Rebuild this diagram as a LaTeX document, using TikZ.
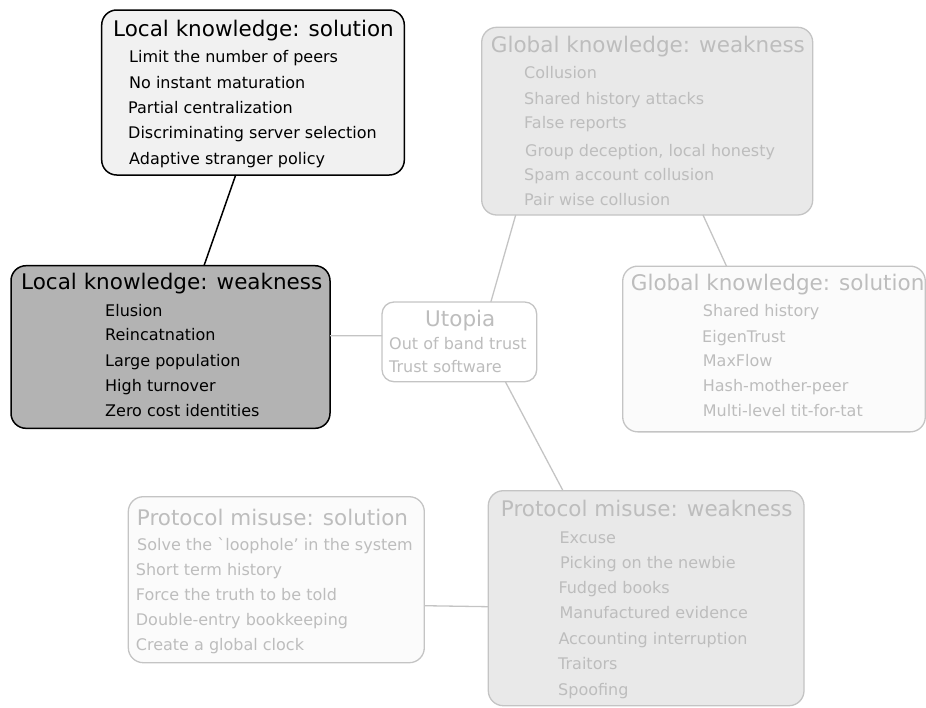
\documentclass[tikz,border=0pt]{standalone}
\usepackage{fontspec}
\setmainfont{DejaVu Sans}
% same face without the TeX quote mapping, for a literal grave accent
\newfontfamily\rawfont{DejaVu Sans}[Ligatures=TeXOff]
\definecolor{inkgray}{HTML}{BDBDBD}
\definecolor{edgegray}{HTML}{C4C4C4}
\definecolor{darkfill}{HTML}{B3B3B3}
\definecolor{lightfill}{HTML}{F1F1F1}
\definecolor{midfill}{HTML}{E9E9E9}
\definecolor{palefill}{HTML}{FBFBFB}
\tikzset{
  box/.style={rectangle, rounded corners=15pt, inner sep=0pt, outer sep=0pt},
  activebox/.style={box, draw=black, line width=1.5pt},
  fadedbox/.style={box, draw=edgegray, line width=1.3pt},
  heading/.style={anchor=base west, inner sep=0pt, font=\fontsize{21.5}{24}\selectfont},
  entry/.style={anchor=base west, inner sep=0pt, font=\fontsize{16}{18}\selectfont},
  faded/.style={text=inkgray},
  link/.style={line width=1.5pt, black},
  fadedlink/.style={line width=1.3pt, edgegray}
}
\begin{document}
\begin{tikzpicture}[x=1pt, y=-1pt]
\useasboundingbox (0,0) rectangle (926,707);

% boxes
\node[activebox, fill=lightfill, minimum width=302.6pt, minimum height=165pt] (ls) at (253,92.5) {};
\node[activebox, fill=darkfill, minimum width=319pt, minimum height=162.6pt] (lw) at (170.5,347) {};
\node[fadedbox, fill=white, rounded corners=12pt, minimum width=154.7pt, minimum height=79.7pt] (ut) at (459.35,341.85) {};
\node[fadedbox, fill=midfill, minimum width=331pt, minimum height=187.7pt] (gw) at (647.2,121.15) {};
\node[fadedbox, fill=palefill, minimum width=302.6pt, minimum height=165.7pt] (gs) at (774,349) {};
\node[fadedbox, fill=palefill, minimum width=296pt, minimum height=166pt] (ps) at (276.3,579.7) {};
\node[fadedbox, fill=midfill, minimum width=315.7pt, minimum height=215pt] (pw) at (646.15,598.2) {};

% connectors
\draw[link] ([xshift=-17.3pt]ls.south) -- ([xshift=33.5pt]lw.north);
\draw[fadedlink] ([yshift=11.3pt]lw.east) -- ([yshift=6.15pt]ut.west);
\draw[fadedlink] ([xshift=31.5pt]ut.north) -- ([xshift=-131.5pt]gw.south);
\draw[fadedlink] ([xshift=55.8pt]gw.south) -- ([xshift=-47.5pt]gs.north);
\draw[fadedlink] ([xshift=46pt]ut.south) -- ([xshift=-83.15pt]pw.north);
\draw[fadedlink] ([yshift=-26pt]ps.east) -- ([yshift=-8.5pt]pw.west);

% Local knowledge: solution
\node[heading] (ls-h) at (113,36) {Local knowledge: solution};
\node[entry] (ls-1) at (129,62) {Limit the number of peers};
\node[entry] (ls-2) at (129,88) {No instant maturation};
\node[entry] (ls-3) at (128,113) {Partial centralization};
\node[entry] (ls-4) at (128,138) {Discriminating server selection};
\node[entry] (ls-5) at (129,164) {Adaptive stranger policy};

% Local knowledge: weakness
\node[heading] (lw-h) at (21,289) {Local knowledge: weakness};
\node[entry] (lw-1) at (105,316) {Elusion};
\node[entry] (lw-2) at (105,340) {Reincatnation};
\node[entry] (lw-3) at (105,366) {Large population};
\node[entry] (lw-4) at (105,391) {High turnover};
\node[entry] (lw-5) at (105,416) {Zero cost identities};

% Utopia
\node[heading, faded] (ut-h) at (425,326) {Utopia};
\node[entry, faded] (ut-1) at (389,349) {Out of band trust};
\node[entry, faded] (ut-2) at (389,372) {Trust software};

% Global knowledge: weakness
\node[heading, faded] (gw-h) at (490.7,52) {Global knowledge: weakness};
\node[entry, faded] (gw-1) at (524,78.3) {Collusion};
\node[entry, faded] (gw-2) at (524,104.3) {Shared history attacks};
\node[entry, faded] (gw-3) at (524,128.3) {False reports};
\node[entry, faded] (gw-4) at (525,156) {Group deception, local honesty};
\node[entry, faded] (gw-5) at (524,180) {Spam account collusion};
\node[entry, faded] (gw-6) at (524,205) {Pair wise collusion};

% Global knowledge: solution
\node[heading, faded] (gs-h) at (630.7,290) {Global knowledge: solution};
\node[entry, faded] (gs-1) at (702.7,316) {Shared history};
\node[entry, faded] (gs-2) at (702,342.7) {EigenTrust};
\node[entry, faded] (gs-3) at (702.7,366.7) {MaxFlow};
\node[entry, faded] (gs-4) at (702.7,391.7) {Hash-mother-peer};
\node[entry, faded] (gs-5) at (702.7,416.7) {Multi-level tit-for-tat};

% Protocol misuse: solution
\node[heading, faded] (ps-h) at (136.7,525) {Protocol misuse: solution};
\node[entry, faded] (ps-1) at (137,550) {Solve the {\rawfont`}loophole' in the system};
\node[entry, faded] (ps-2) at (135.7,575) {Short term history};
\node[entry, faded] (ps-3) at (135.7,600) {Force the truth to be told};
\node[entry, faded] (ps-4) at (135.7,625) {Double-entry bookkeeping};
\node[entry, faded] (ps-5) at (135.7,650.7) {Create a global clock};

% Protocol misuse: weakness
\node[heading, faded] (pw-h) at (500.7,516.7) {Protocol misuse: weakness};
\node[entry, faded] (pw-1) at (559.3,543.3) {Excuse};
\node[entry, faded] (pw-2) at (560,568.3) {Picking on the newbie};
\node[entry, faded] (pw-3) at (558.3,593.3) {Fudged books};
\node[entry, faded] (pw-4) at (559.3,618.3) {Manufactured evidence};
\node[entry, faded] (pw-5) at (558.3,644.3) {Accounting interruption};
\node[entry, faded] (pw-6) at (558,669.3) {Traitors};
\node[entry, faded] (pw-7) at (558,695) {Spoofing};
\end{tikzpicture}
\end{document}
